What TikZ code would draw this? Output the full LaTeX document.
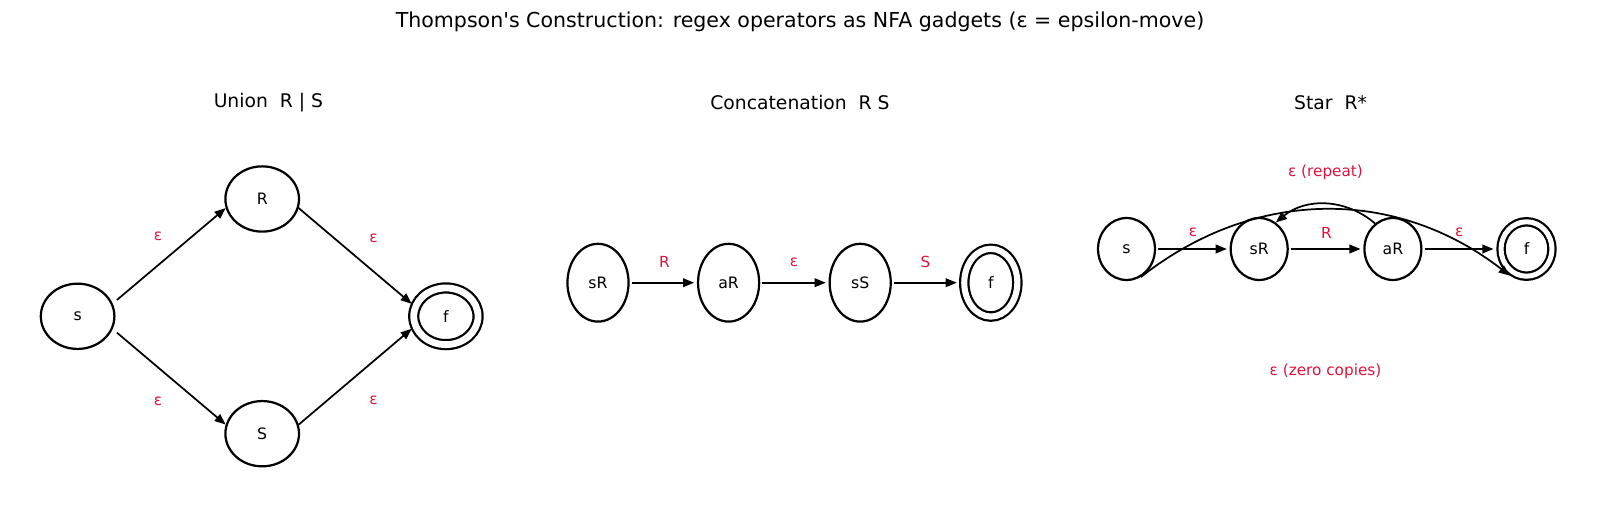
\documentclass[tikz,border=0pt]{standalone}
\usepackage{fontspec}
\setmainfont{DejaVu Sans}
\newfontfamily\plainsans{DejaVu Sans}
\usepackage{xcolor}
\usepackage{tikz}
\usetikzlibrary{arrows.meta,shapes.geometric}
\definecolor{epsc}{HTML}{DC143C}
\tikzset{
  ar/.style={-{Triangle[length=8pt,width=6.2pt]},line width=1.25pt,black},
  st/.style={ellipse,draw,line width=1.6pt,inner sep=0pt,font=\fontsize{11.3}{13}\selectfont},
  acc/.style={st,double,outer sep=3.4pt},
  lab/.style={text=epsc,inner sep=0pt,font=\fontsize{11}{13}\selectfont},
  ttl/.style={inner sep=0pt,font=\fontsize{13.5}{16}\selectfont}
}

\begin{document}
\begin{tikzpicture}[x=0.72pt,y=-0.72pt]
\useasboundingbox (0,0) rectangle (1600,516);
\node[inner sep=0pt,font=\plainsans\fontsize{14.8}{18}\selectfont] (title) at (800,21.4) {Thompson's Construction: regex operators as NFA gadgets (ε = epsilon-move)};

% union
\node[ttl] (tunion) at (268.4,102.5) {Union~~R | S};
\node[st,minimum width=53pt,minimum height=47pt] (us) at (77.6,316.3) {s};
\node[st,minimum width=53pt,minimum height=47pt] (uR) at (262.2,199) {R};
\node[st,minimum width=53pt,minimum height=47pt] (uS) at (262.2,433.7) {S};
\node[acc,minimum width=46.3pt,minimum height=40.8pt,double distance=4.9pt] (uf) at (445.9,316.3) {f};
\draw[ar,shorten <=4pt] (us.20) -- (uR.194);
\draw[ar,shorten <=4pt] (us.340) -- (uS.166);
\draw[ar] (uR.346) -- (uf.160);
\draw[ar] (uS.14) -- (uf.200);
\node[lab] (lu1) at (158,236.7) {ε};
\node[lab] (lu2) at (373.5,238.8) {ε};
\node[lab] (lu3) at (158,401) {ε};
\node[lab] (lu4) at (373.5,400) {ε};

% concatenation
\node[ttl] (tcat) at (800,102.5) {Concatenation~~R S};
\node[st,minimum width=44pt,minimum height=56pt] (csR) at (598,282.7) {sR};
\node[st,minimum width=44pt,minimum height=56pt] (caR) at (728.6,282.7) {aR};
\node[st,minimum width=44pt,minimum height=56pt] (csS) at (860.2,282.7) {sS};
\node[acc,minimum width=38.2pt,minimum height=48.8pt,double distance=4.4pt] (cf) at (990.8,282.7) {f};
\draw[ar,shorten <=1.5pt,shorten >=2pt] (csR) -- (caR);
\draw[ar,shorten <=1.5pt,shorten >=2pt] (caR) -- (csS);
\draw[ar,shorten <=1.5pt,shorten >=2pt] (csS) -- (cf);
\node[lab] (lc1) at (664.3,262.2) {R};
\node[lab] (lc2) at (794,262.2) {ε};
\node[lab] (lc3) at (925.5,262.2) {S};

% star
\node[ttl] (tstar) at (1330.6,102.5) {Star~~R*};
\node[st,minimum width=41pt,minimum height=44.6pt] (ss) at (1126.5,249) {s};
\node[st,minimum width=41pt,minimum height=44.6pt] (ssR) at (1259.2,249) {sR};
\node[st,minimum width=41pt,minimum height=44.6pt] (saR) at (1392.9,249) {aR};
\node[acc,minimum width=36.7pt,minimum height=39.2pt,double distance=3.6pt] (sf) at (1526.5,249) {f};
\draw[ar,shorten <=1.5pt,shorten >=2pt] (ss) -- (ssR);
\draw[ar,shorten <=1.5pt,shorten >=2pt] (ssR) -- (saR);
\draw[ar,shorten <=1.5pt,shorten >=2pt] (saR) -- (sf);
\draw[ar] (saR.125) to[bend right=40] (ssR.58);
\draw[ar] (ss.297) to[bend left=38] (sf.238);
\node[lab] (ls1) at (1192.9,232.7) {ε};
\node[lab] (ls2) at (1326.5,232.7) {R};
\node[lab] (ls3) at (1459.2,232.7) {ε};
\node[lab] (lrep) at (1325.5,172.5) {ε (repeat)};
\node[lab] (lzero) at (1325.5,371.4) {ε (zero copies)};
\end{tikzpicture}
\end{document}
